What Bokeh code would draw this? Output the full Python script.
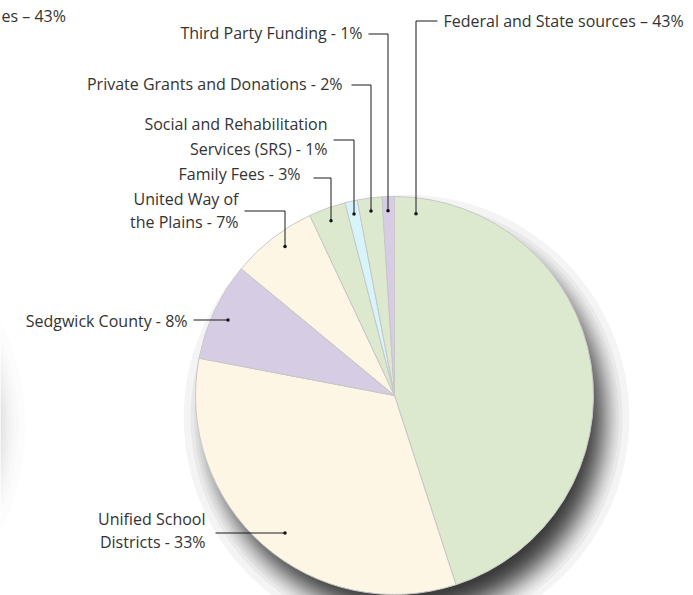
import math
from statistics import NormalDist
from bokeh.plotting import figure
from bokeh.models import ColumnDataSource, Range1d
from bokeh.core.properties import value
from bokeh.embed import file_html
from bokeh.resources import INLINE

# ---------------- data ----------------
sources = [
    "Federal and State sources",
    "Unified School\nDistricts",
    "Sedgwick County",
    "United Way of\nthe Plains",
    "Family Fees",
    "Social and Rehabilitation\nServices (SRS)",
    "Private Grants and Donations",
    "Third Party Funding",
]
label_pct = [43, 33, 8, 7, 3, 1, 2, 1]          # percentages printed in labels
slice_share = [45, 33, 8, 7, 3, 1, 2, 1]         # slice sizes as drawn
label_dash = [" – ", " - ", " - ", " - ", " - ", " - ", " - ", " - "]
slice_colors = ["#dde9cf", "#fdf6e4", "#d6cde5", "#fdf6e4",
                "#dde9cf", "#d7f4fb", "#dde9cf", "#d6cde5"]
fragment_text = "es – 43%"   # cropped label of the neighbouring chart

# ---------------- layout (screen pixels) ----------------
W, H = 693, 595
def Y(py):
    return H - py

CX, CY, R = 394, 395, 199
BASE_SHIFT = -7
# text x, baselines, align, leader start x, elbow y (None = straight), anchor position in slice, anchor radius
layout = [
    dict(tx=443, ty=[27], align="left", lx=437, ly=20, frac=0.041, r=183),
    dict(tx=205, ty=[525, 548], align="right", lx=215, ly=None, frac=0.478, r=176),
    dict(tx=187, ty=[327], align="right", lx=193, ly=None, frac=0.476, r=184),
    dict(tx=238, ty=[205, 228], align="right", lx=244, ly=210, frac=0.556, r=185),
    dict(tx=300, ty=[180], align="right", lx=313, ly=177, frac=0.48, r=186),
    dict(tx=327, ty=[130, 155], align="right", lx=333, ly=139, frac=0.47, r=186),
    dict(tx=342, ty=[90], align="right", lx=351, ly=84, frac=0.47, r=186),
    dict(tx=362, ty=[39], align="right", lx=368, ly=33, frac=0.39, r=185),
]

FONT = value("Open Sans")
FONT_SIZE = "16px"
TEXT_COLOR = "#333333"

p = figure(width=W, height=H, x_range=Range1d(0, W), y_range=Range1d(0, H),
           output_backend="svg", toolbar_location=None, min_border=0,
           x_axis_type=None, y_axis_type=None)
p.grid.visible = False
p.outline_line_color = None
p.background_fill_color = "white"
p.border_fill_color = "white"

# ---------------- soft drop shadows (stacked translucent discs) ----------------
nd = NormalDist()
def shadow(cx, cy, rs, sigma, amax, n=32):
    a = 1 - (1 - amax * 0.985) ** (1.0 / n)
    radii = []
    for k in range(1, n + 1):
        t = 1 - (1 - a) ** (k - 0.5)
        q = min(max(t / amax, 1e-4), 0.9999)
        radii.append(rs - sigma * nd.inv_cdf(q))
    p.circle(x=[cx] * n, y=[Y(cy)] * n, radius=radii, fill_color="black",
             fill_alpha=a, line_color=None)

shadow(-205, 425, R, 15, 0.35)            # neighbouring chart's shadow
shadow(CX + 12, CY + 22, R - 1, 13, 0.76)

# ---------------- pie ----------------
total = sum(slice_share)
starts, ends, cum = [], [], 0.0
for s in slice_share:
    starts.append(math.pi / 2 - 2 * math.pi * cum / total)
    cum += s
    ends.append(math.pi / 2 - 2 * math.pi * cum / total)

pie_src = ColumnDataSource(dict(start=starts, end=ends, color=slice_colors))
p.wedge(x=CX, y=Y(CY), radius=R, start_angle="start", end_angle="end",
        direction="clock", fill_color="color", line_color="#c8c8c8",
        line_width=1, source=pie_src)

# ---------------- labels and leaders ----------------
xs, ys, dx, dy = [], [], [], []
tl = dict(x=[], y=[], text=[])
tr = dict(x=[], y=[], text=[])
cum = 0.0
for name, pct, dash, s, lay in zip(sources, label_pct, label_dash, slice_share, layout):
    theta = 2 * math.pi * (cum + lay["frac"] * s) / total
    cum += s
    ax = CX + lay["r"] * math.sin(theta)
    ay = CY - lay["r"] * math.cos(theta)
    ax = round(ax) + 0.5
    if lay["ly"] is None:
        ay = round(ay) + 0.5
        xs.append([lay["lx"], ax]); ys.append([Y(ay), Y(ay)])
    else:
        ly = lay["ly"] + 0.5
        xs.append([lay["lx"], ax, ax]); ys.append([Y(ly), Y(ly), Y(ay)])
    dx.append(ax); dy.append(Y(ay))
    lines = (name + dash + f"{pct}%").split("\n")
    tgt = tl if lay["align"] == "left" else tr
    for line, by in zip(lines, lay["ty"]):
        tgt["x"].append(lay["tx"]); tgt["y"].append(Y(by + BASE_SHIFT)); tgt["text"].append(line)

p.multi_line(xs=xs, ys=ys, line_color="#1a1a1a", line_width=1)
p.scatter(x=dx, y=dy, size=3.5, fill_color="#111111", line_color=None)

tl["x"].append(1); tl["y"].append(Y(22 + BASE_SHIFT)); tl["text"].append(fragment_text)

common = dict(text_font=FONT, text_font_size=FONT_SIZE, text_color=TEXT_COLOR,
              text_baseline="alphabetic")
p.text(x="x", y="y", text="text", text_align="left", source=ColumnDataSource(tl), **common)
p.text(x="x", y="y", text="text", text_align="right", source=ColumnDataSource(tr), **common)

open("out.html", "w").write(file_html(p, INLINE))
